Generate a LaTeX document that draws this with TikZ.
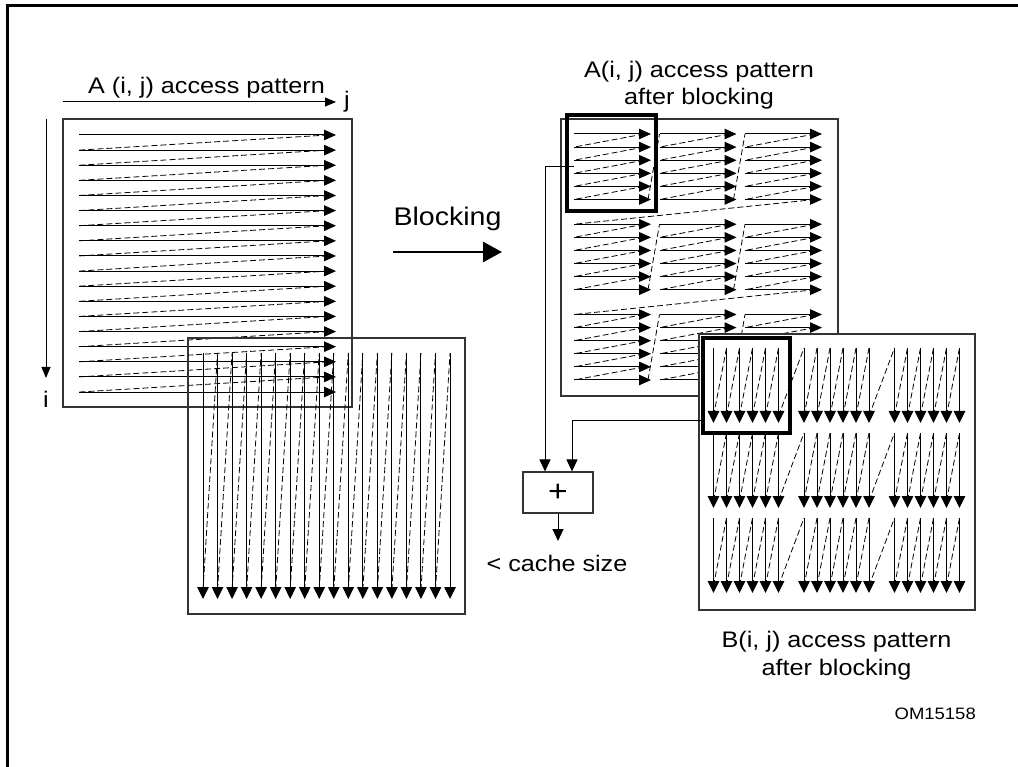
\documentclass[tikz,border=0pt]{standalone}
\usepackage{fontspec}
\setmainfont{Liberation Sans}[FakeStretch=1.12]
\usetikzlibrary{arrows.meta}
\begin{document}
\begin{tikzpicture}[x=1pt,y=-1pt,
  rowarrow/.style={line width=1pt,-{Triangle[length=12pt,width=10.5pt]}},
  colarrow/.style={line width=1pt,-{Triangle[length=12pt,width=11.5pt]}},
  ret/.style={line width=0.8pt,dash pattern=on 6pt off 3pt},
  mframe/.style={line width=1.2pt,draw=black!80},
  thick box/.style={line width=3.2pt,draw=black},
  conn/.style={line width=1pt,-{Triangle[length=12pt,width=11pt]}},
  axis/.style={line width=1pt,-{Triangle[length=11pt,width=9pt]}},
  txt/.style={font=\fontsize{22.5}{26}\selectfont,inner sep=0pt},
  big/.style={font=\fontsize{25.5}{30}\selectfont,inner sep=0pt},
  small/.style={font=\fontsize{16.5}{20}\selectfont,inner sep=0pt}]
\useasboundingbox (0,0) rectangle (1018,767);
% outer frame (left and top only)
\draw[line width=2.2pt] (7.5,767) -- (7.5,5.5) -- (1018,5.5);

% ---------------- left A matrix ----------------
\draw[mframe] (63,119) rectangle (352,407);
\foreach \k in {0,...,17} {
  \pgfmathsetmacro\yy{135+15.12*\k}
  \draw[rowarrow] (79,\yy) -- (336,\yy);
}
\foreach \k in {0,...,16} {
  \pgfmathsetmacro\ya{135+15.12*\k}
  \pgfmathsetmacro\yb{135+15.12*(\k+1)}
  \draw[ret] (328,\ya) -- (79,\yb);
}
\coordinate (jstart) at (63,102);
\coordinate (jend) at (336,102);
\draw[axis] (jstart) -- (jend);
\coordinate (istart) at (46,119);
\coordinate (iend) at (46,378);
\draw[axis] (istart) -- (iend);
\node[txt,anchor=base] (tA) at (206.5,93.5) {A (i, j) access pattern};
\node[txt,anchor=base west] (tj) at (344,108) {j};
\node[txt,anchor=base] (ti) at (46,407) {i};

% ---------------- left B matrix ----------------
\draw[mframe] (188,338) rectangle (465,614);
\foreach \k in {0,...,17} {
  \pgfmathsetmacro\xx{203+14.53*\k}
  \draw[colarrow] (\xx,353) -- (\xx,599);
}
\foreach \k in {0,...,16} {
  \pgfmathsetmacro\xa{203+14.53*\k}
  \pgfmathsetmacro\xb{203+14.53*(\k+1)}
  \draw[ret] (\xa,590) -- (\xb,353);
}

% ---------------- Blocking arrow ----------------
\node[big,anchor=base] (tblock) at (447.5,226) {Blocking};
\coordinate (bls) at (393,252);
\coordinate (ble) at (502,252);
\draw[line width=2.6pt,-{Triangle[length=19pt,width=20pt]}] (bls) -- (ble);

% ---------------- right A (blocked) ----------------
\node[txt,anchor=base] (tRA1) at (699,78) {A(i, j) access pattern};
\node[txt,anchor=base] (tRA2) at (699,105) {after blocking};
\draw[mframe,fill=white] (561,119) rectangle (838,396);
\foreach \g in {0,1,2} {
  \foreach \c in {0,1,2} {
    \pgfmathsetmacro\xs{574+85.5*\c}
    \pgfmathsetmacro\xe{\xs+77}
    \foreach \r in {0,...,5} {
      \pgfmathsetmacro\yy{134+90.25*\g+13.1*\r}
      \draw[rowarrow] (\xs,\yy) -- (\xe,\yy);
    }
    \foreach \r in {0,...,4} {
      \pgfmathsetmacro\ya{134+90.25*\g+13.1*\r}
      \pgfmathsetmacro\yb{134+90.25*\g+13.1*(\r+1)}
      \draw[ret] (\xe-7,\ya) -- (\xs,\yb);
    }
  }
  \foreach \c in {0,1} {
    \pgfmathsetmacro\xe{574+85.5*\c+77}
    \pgfmathsetmacro\xn{574+85.5*(\c+1)}
    \pgfmathsetmacro\ya{134+90.25*\g+13.1*5}
    \pgfmathsetmacro\yb{134+90.25*\g}
    \draw[ret] (\xe-3,\ya) -- (\xn,\yb);
  }
}
\foreach \g in {0,1} {
  \pgfmathsetmacro\ya{134+90.25*\g+13.1*5}
  \pgfmathsetmacro\yb{134+90.25*(\g+1)}
  \draw[ret] (815,\ya) -- (574,\yb);
}
\draw[thick box] (567,115) rectangle (656,211);
\coordinate (aout) at (574,167);

% ---------------- right B (blocked) ----------------
\draw[mframe,fill=white] (699,334) rectangle (975,610);
\foreach \r in {0,1,2} {
  \pgfmathsetmacro\yt{348+85*\r}
  \pgfmathsetmacro\yp{423+85*\r}
  \foreach \c in {0,1,2} {
    \foreach \k in {0,...,5} {
      \pgfmathsetmacro\xx{713.5+90.5*\c+13*\k}
      \draw[colarrow] (\xx,\yt) -- (\xx,\yp);
    }
    \foreach \k in {0,...,4} {
      \pgfmathsetmacro\xa{713.5+90.5*\c+13*\k}
      \pgfmathsetmacro\xb{713.5+90.5*\c+13*(\k+1)}
      \draw[ret] (\xa,\yp-7) -- (\xb,\yt);
    }
  }
  \foreach \c in {0,1} {
    \pgfmathsetmacro\xa{713.5+90.5*\c+65}
    \pgfmathsetmacro\xb{713.5+90.5*(\c+1)}
    \draw[ret] (\xa,\yp-7) -- (\xb,\yt);
  }
}
\draw[thick box] (703,338) rectangle (790,433);
\coordinate (bout) at (703,420);
\node[txt,anchor=base] (tRB1) at (836.5,647) {B(i, j) access pattern};
\node[txt,anchor=base] (tRB2) at (836.5,675) {after blocking};

% ---------------- adder ----------------
\node[draw=black!80,line width=1.1pt,minimum width=70pt,minimum height=41pt,
      font=\fontsize{30}{30}\selectfont,inner sep=0pt] (plus) at (558,492.5) {+};
\draw[conn] (aout) -| ([xshift=-13pt]plus.north);
\draw[conn] (bout) -| ([xshift=14pt]plus.north);
\coordinate (pout) at (558,541);
\draw[conn] (plus.south) -- (pout);
\node[txt,anchor=base] (tcache) at (557,571) {< cache size};

\node[small,anchor=base east] (tom) at (976,719) {OM15158};
\end{tikzpicture}
\end{document}
